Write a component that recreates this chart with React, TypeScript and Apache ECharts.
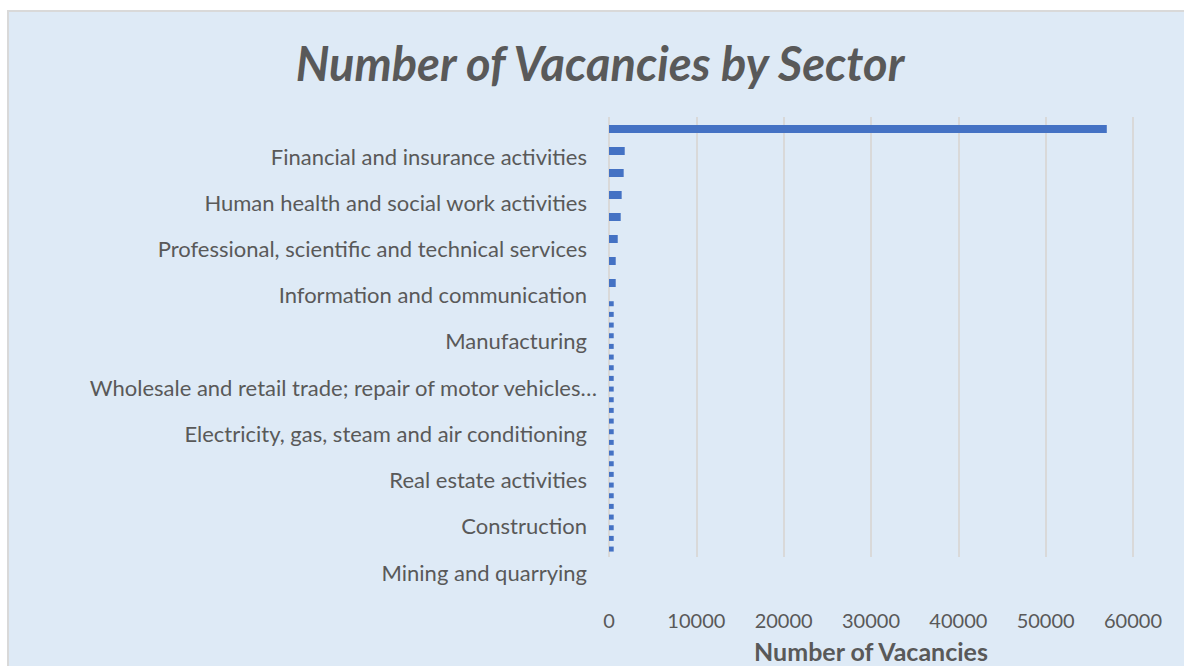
import React, { useEffect, useRef } from "react";
import * as echarts from "echarts";

// Category labels on the vertical axis (bottom to top, every other one shown)
const sectorLabels = [
  "Mining and quarrying",
  "Agriculture, forestry and fishing",
  "Construction",
  "Water supply; sewerage, waste management",
  "Real estate activities",
  "Arts, entertainment and recreation",
  "Electricity, gas, steam and air conditioning",
  "Other service activities",
  "Wholesale and retail trade; repair of motor vehicles…",
  "Transportation and storage",
  "Manufacturing",
  "Accommodation and food service activities",
  "Information and communication",
  "Public administration and defence",
  "Professional, scientific and technical services",
  "Administrative and support service activities",
  "Human health and social work activities",
  "Education",
  "Financial and insurance activities",
  "Not specified",
];

// Bars as drawn, top to bottom
const upperBarValues = [57000, 1800, 1680, 1450, 1340, 1000, 770, 770];
const lowerBarValues = [
  540, 540, 540, 540, 540, 540, 540, 540, 540, 540, 540, 540,
  540, 540, 540, 540, 540, 540, 540, 540, 540, 540, 540, 540,
];
const upperBarIds = upperBarValues.map((_, i) => `A${i + 1}`);
const lowerBarIds = lowerBarValues.map((_, i) => `B${i + 1}`);

const xMin = 0;
const xMax = 60000;
const xStep = 10000;

const TEXT = "#595959";
const BG = "#DEEAF6";
const GRID = "#D9D9D9";
const BAR = "#4472C4";
const FONT = "Lato, 'Open Sans', sans-serif";

export default function App() {
  const ref = useRef<HTMLDivElement>(null);

  useEffect(() => {
    if (!ref.current) return;
    const chart = echarts.init(ref.current, undefined, { renderer: "svg" });
    const L = 609;
    const R = 1184 - 1133;
    const hiddenValueAxis = (gi: number) => ({
      type: "value",
      gridIndex: gi,
      min: xMin,
      max: xMax,
      interval: xStep,
      show: false,
    });
    const gridBase = { left: L, right: R, outerBoundsMode: "none", containLabel: false };
    const option: any = {
      animation: false,
      backgroundColor: BG,
      textStyle: { fontFamily: FONT },
      title: {
        text: "Number of Vacancies by Sector",
        left: 595,
        top: 34,
        textAlign: "center",
        textStyle: {
          fontFamily: FONT,
          fontSize: 47,
          fontWeight: "bold",
          fontStyle: "italic",
          color: TEXT,
        },
      },
      graphic: [
        { type: "rect", silent: true, shape: { x: 0, y: 0, width: 1184, height: 10 }, style: { fill: "#ffffff" } },
        { type: "rect", silent: true, shape: { x: 0, y: 0, width: 7, height: 666 }, style: { fill: "#ffffff" } },
        { type: "line", silent: true, shape: { x1: 8, y1: 11, x2: 1184, y2: 11 }, style: { stroke: GRID, lineWidth: 2 } },
        { type: "line", silent: true, shape: { x1: 8, y1: 10, x2: 8, y2: 666 }, style: { stroke: GRID, lineWidth: 2 } },
      ],
      grid: [
        { ...gridBase, top: 117, height: 440 },
        { ...gridBase, top: 118, height: 176 },
        { ...gridBase, top: 298.4, height: 256 },
        { ...gridBase, top: 121.4, height: 462.2 },
      ],
      xAxis: [
        {
          type: "value",
          gridIndex: 0,
          min: xMin,
          max: xMax,
          interval: xStep,
          axisLine: { show: false },
          axisTick: { show: false },
          splitLine: { show: true, lineStyle: { color: GRID, width: 2 } },
          axisLabel: {
            color: TEXT,
            fontSize: 20,
            fontFamily: FONT,
            margin: 53,
            formatter: (v: number) => String(v),
          },
          name: "Number of Vacancies",
          nameLocation: "middle",
          nameGap: 81,
          nameTextStyle: { color: TEXT, fontSize: 25, fontWeight: "bold", fontFamily: FONT },
        },
        hiddenValueAxis(1),
        hiddenValueAxis(2),
        hiddenValueAxis(3),
      ],
      yAxis: [
        { type: "category", gridIndex: 0, data: ["-"], show: false },
        { type: "category", gridIndex: 1, data: upperBarIds, inverse: true, show: false },
        { type: "category", gridIndex: 2, data: lowerBarIds, inverse: true, show: false },
        {
          type: "category",
          gridIndex: 3,
          data: sectorLabels,
          axisLine: { show: false },
          axisTick: { show: false },
          splitLine: { show: false },
          axisLabel: {
            interval: 1,
            color: TEXT,
            fontSize: 22,
            fontFamily: FONT,
            margin: 12,
            formatter: (v: string) =>
              v.endsWith("…") ? v : `${v}{s| }`,
            rich: { s: { width: 10, fontSize: 22 } },
          },
        },
      ],
      series: [
        {
          type: "bar",
          xAxisIndex: 1,
          yAxisIndex: 1,
          data: upperBarValues,
          barWidth: 8,
          itemStyle: { color: BAR },
        },
        {
          type: "bar",
          xAxisIndex: 2,
          yAxisIndex: 2,
          data: lowerBarValues,
          barWidth: 5,
          itemStyle: { color: BAR },
        },
      ],
    };
    chart.setOption(option);
    return () => chart.dispose();
  }, []);

  return (
    <div
      ref={ref}
      style={{ position: "absolute", left: 0, top: 0, width: 1184, height: 666 }}
    />
  );
}
